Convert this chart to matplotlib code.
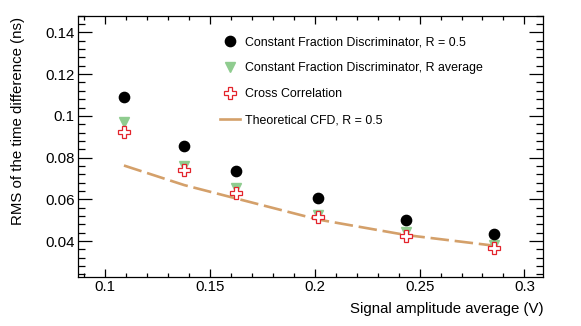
import matplotlib
matplotlib.use("Agg")
import matplotlib.pyplot as plt
from matplotlib.lines import Line2D
from matplotlib.ticker import MultipleLocator

plt.rcParams['font.family'] = ['Liberation Sans', 'DejaVu Sans']

# --- Data --- #
amplitude = [0.109, 0.1378, 0.1625, 0.2016, 0.2434, 0.2853]
rms_cfd_05 = [0.109, 0.0855, 0.0736, 0.0604, 0.0501, 0.0432]
rms_cfd_avg = [0.0970, 0.0760, 0.0655, 0.0525, 0.0445, 0.0380]
rms_xcorr = [0.0925, 0.0740, 0.0630, 0.0515, 0.0425, 0.0365]
theory_cfd = [0.0762, 0.0668, 0.0604, 0.0503, 0.0429, 0.0378]

labels = ["Constant Fraction Discriminator, R = 0.5",
          "Constant Fraction Discriminator, R average",
          "Cross Correlation",
          "Theoretical CFD, R = 0.5"]

c_green = '#8fcc8f'
c_red = '#e3232b'
c_line = '#d4a06a'

fig = plt.figure(figsize=(5.81, 3.26), dpi=100)
ax = fig.add_axes([0.1343, 0.1512, 0.8008, 0.8006])

ax.plot(amplitude, theory_cfd, color=c_line, lw=1.9, dashes=(7, 2.2), zorder=1)
ax.plot(amplitude, rms_cfd_05, 'o', color='black', ms=7.4, zorder=3)
ax.plot(amplitude, rms_cfd_avg, 'v', color=c_green, ms=7.4, mec=c_green, zorder=2)
ax.plot(amplitude, rms_xcorr, 'P', mfc='white', mec=c_red, mew=0.9, ms=8, zorder=4)

ax.set_xlim(0.0871, 0.309)
ax.set_ylim(0.0229, 0.148)

ax.xaxis.set_major_locator(MultipleLocator(0.05))
ax.xaxis.set_minor_locator(MultipleLocator(0.01))
ax.yaxis.set_major_locator(MultipleLocator(0.02))
ax.yaxis.set_minor_locator(MultipleLocator(0.004))
ax.xaxis.set_major_formatter(plt.FuncFormatter(lambda v, p: f"{v:g}"))
ax.yaxis.set_major_formatter(plt.FuncFormatter(lambda v, p: f"{v:g}"))

ax.tick_params(axis='both', which='both', direction='in', top=True, right=True,
               labelsize=10.8, width=0.9, pad=2.5)
ax.tick_params(axis='y', which='major', length=10)
ax.tick_params(axis='y', which='minor', length=5)
ax.tick_params(axis='x', which='major', length=6)
ax.tick_params(axis='x', which='minor', length=3)
for s in ax.spines.values():
    s.set_linewidth(0.9)

ax.set_xlabel("Signal amplitude average (V)", fontsize=10.8, ha='right')
ax.xaxis.set_label_coords(1.0, -0.095)
ax.set_ylabel("RMS of the time difference (ns)", fontsize=10.8, ha='right')
ax.yaxis.set_label_coords(-0.115, 0.995)

handles = [
    Line2D([], [], ls='none', marker='o', color='black', ms=7.4),
    Line2D([], [], ls='none', marker='v', color=c_green, ms=7.4),
    Line2D([], [], ls='none', marker='P', mfc='white', mec=c_red, mew=0.9, ms=8),
    Line2D([], [], color=c_line, lw=1.9),
]
ax.legend(handles, labels, loc='upper left', bbox_to_anchor=(0.305, 0.92),
          frameon=False, fontsize=8.9, handlelength=1.62, handletextpad=0.4,
          labelspacing=1.12, borderaxespad=0, borderpad=0)

fig.savefig("out.png", dpi=100)
